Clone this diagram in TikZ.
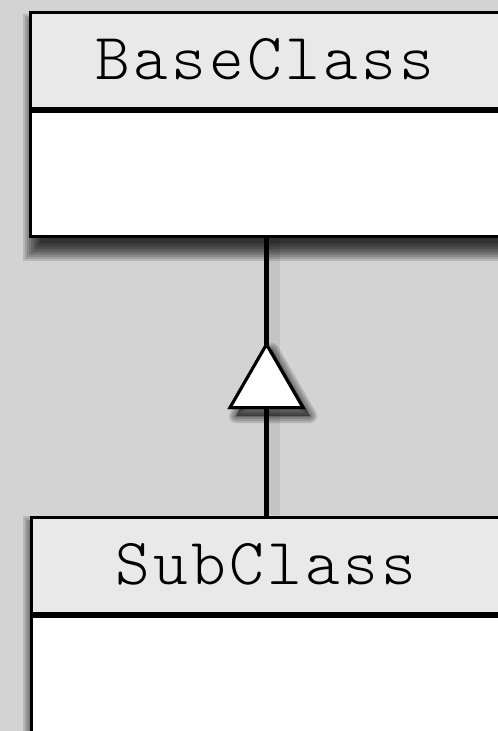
\documentclass[tikz,border=0pt]{standalone}
\usepackage{fontspec}
\newfontfamily\codefont[LetterSpace=5.0]{lmmonolt10-regular.otf}
\usetikzlibrary{shapes.geometric}
\definecolor{bg}{HTML}{D3D3D3}
\definecolor{hdr}{HTML}{E9E9E9}
\newcommand{\softrect}[4]{%
  \foreach \r in {12,10,...,-6}{%
    \fill[black, opacity=0.13] (#1-\r,#2-\r) rectangle (#3+\r,#4+\r);
  }}
\begin{document}
\begin{tikzpicture}[x=1pt,y=-1pt,
  hdrbox/.style={draw=black, line width=3pt, fill=hdr, minimum width=470pt,
    minimum height=96pt, inner sep=0pt,
    font=\codefont\fontsize{66}{66}\selectfont, text height=38pt, text depth=0pt},
  bodybox/.style={draw=black, line width=3pt, fill=white, minimum width=470pt,
    inner sep=0pt},
  genbox/.style={regular polygon, regular polygon sides=3, minimum size=84pt,
    inner sep=0pt, outer sep=0pt, draw=black, fill=white, line width=3pt},
  link/.style={draw=black, line width=5pt}]
\useasboundingbox (0,0) rectangle (498,731);
\clip (0,0) rectangle (498,731);
\fill[bg] (0,0) rectangle (498,731);
% shadows
\softrect{35}{26}{505}{249}
\softrect{35}{528}{505}{760}
\foreach \w in {14,10,6,2}{%
  \fill[black, opacity=0.14, line join=round]
    (272,350) -- (310,416) -- (236,416) -- cycle;
  \draw[black, opacity=0.14, line width=\w pt, line join=round]
    (272,350) -- (310,416) -- (236,416) -- cycle;
}
\draw[black, opacity=0.07, line width=14pt] (273,234) -- (273,515);
% classes
\node[hdrbox] (basehdr) at (265,60) {BaseClass};
\node[bodybox, minimum height=125pt, anchor=north] (basebody) at (basehdr.south) {};
\node[hdrbox] (subhdr) at (266,565) {SubClass};
\node[bodybox, minimum height=200pt, anchor=north] (subbody) at (subhdr.south) {};
% generalization
\node[genbox] (gen) at (266.5,386.5) {};
\draw[link] (subhdr.north -| gen.center) -- (gen.south);
\draw[link] (gen.north) -- (basebody.south -| gen.center);
\node[genbox] at (gen.center) {};
\end{tikzpicture}
\end{document}
